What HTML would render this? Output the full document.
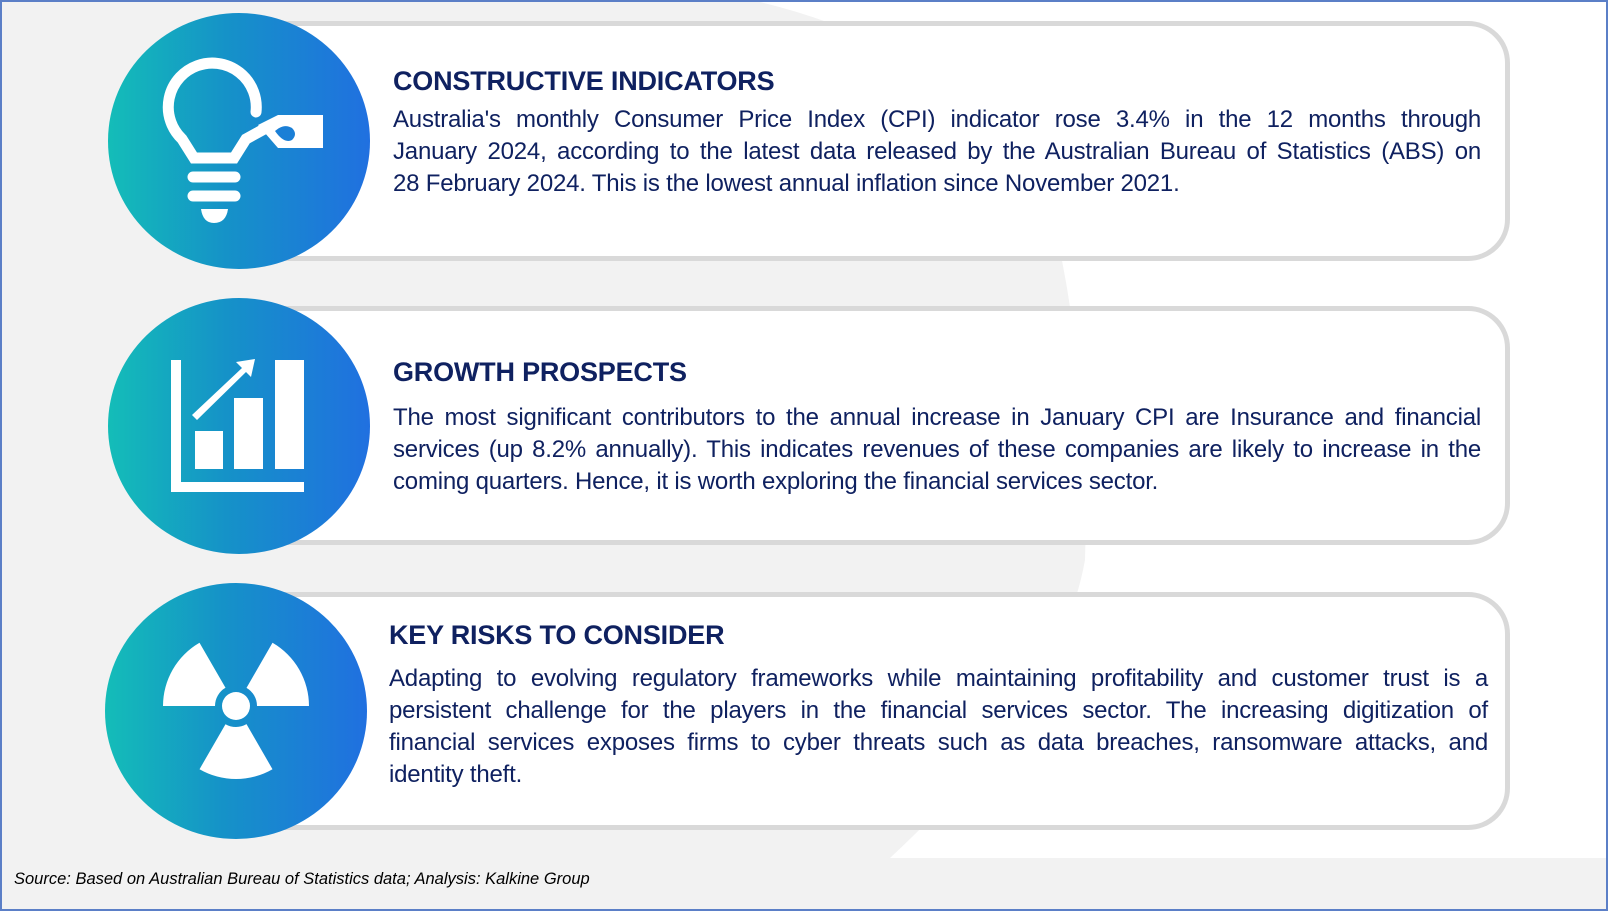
<!DOCTYPE html>
<html><head><meta charset="utf-8"><style>
*{margin:0;padding:0;box-sizing:border-box}
body{width:1608px;height:911px;overflow:hidden;background:#f2f2f2;font-family:"Liberation Sans",sans-serif;position:relative}
.frame{position:absolute;left:0;top:0;width:1608px;height:911px;border:2px solid #5b7fc7;}
.card{position:absolute;left:256px;width:1254px;border:5px solid #d9d9d9;border-radius:0 42px 42px 0;background:#fff}
.circ{position:absolute;width:262px;height:256px;border-radius:50%;background:linear-gradient(90deg,#14bdb8 0%,#1592c8 45%,#2070e0 100%)}
.circ svg{position:absolute;left:0;top:0}
.t{position:absolute;color:#0f2160;font-weight:bold;font-size:27px;line-height:30px;white-space:nowrap;letter-spacing:-0.2px}
.b{position:absolute;color:#0f2160;font-size:24px;line-height:32px;letter-spacing:-0.2px}
.b span{display:block;white-space:nowrap;text-align:justify;text-align-last:justify}
.b span.l{text-align-last:left}
.foot{position:absolute;left:14px;top:870px;font-size:16.5px;font-style:italic;color:#000}
</style></head><body>
<svg style="position:absolute;left:0;top:0" width="1608" height="911">
<path d="M760 2 L1608 2 L1608 858 L890 858 Q1060 700 1085 560 Q1090 400 1060 250 Q1000 60 760 2Z" fill="#fff"/>
</svg>
<div class="card" style="top:21px;height:240px"></div>
<div class="card" style="top:306px;height:239px"></div>
<div class="card" style="top:592px;height:238px"></div>

<div class="circ" style="left:108px;top:13px">
<svg width="262" height="256" viewBox="0 0 262 256" fill="none" stroke="#fff" stroke-linecap="round">
<path d="M148 99 A44 44 0 1 0 74 126 L86 145 L126 145 L138 126 L158 115" stroke-width="11" fill="none"/>
<path d="M150 112 L170 102 L215 102 L215 135 L170 135 Z" fill="#fff" stroke="none"/>
<path d="M167 118 Q176 110 184 115 Q190 121 184 127 Q176 131 167 118Z" fill="#1a7fd6" stroke="none"/>
<line x1="85" y1="164" x2="127" y2="164" stroke-width="11"/>
<line x1="85" y1="183" x2="127" y2="183" stroke-width="11"/>
<path d="M93 196 L120 196 Q118 210 106 210 Q95 210 93 196Z" fill="#fff" stroke="none"/>
</svg></div>

<div class="circ" style="left:108px;top:298px">
<svg width="262" height="256" viewBox="0 0 262 256" fill="#fff">
<rect x="63" y="62" width="10" height="132"/><rect x="63" y="184" width="133" height="10"/>
<rect x="87" y="133" width="28" height="38"/><rect x="126" y="100" width="29" height="71"/><rect x="167" y="62" width="29" height="109"/>
<path d="M84 117 L134 70 L128 64 L147 61 L143 79 L138 74 L89 122Z"/>
</svg></div>

<div class="circ" style="left:105px;top:583px">
<svg width="262" height="256" viewBox="0 0 262 256" fill="#fff">
<g transform="translate(131,123)">
<circle r="14"/>
<g id="bl"><path d="M-21 0 L-73 0 A73 73 0 0 1 -36.5 -63.2 L-10.5 -18.2 A21 21 0 0 0 -21 0Z"/></g>
<use href="#bl" transform="rotate(120)"/><use href="#bl" transform="rotate(240)"/>
</g></svg></div>

<div class="t" style="left:393px;top:66px">CONSTRUCTIVE INDICATORS</div>
<div class="b" style="left:393px;top:104px;width:1088px"><span>Australia's monthly Consumer Price Index (CPI) indicator rose 3.4% in the 12 months through</span><span>January 2024, according to the latest data released by the Australian Bureau of Statistics (ABS) on</span><span class="l">28 February 2024. This is the lowest annual inflation since November 2021.</span></div>

<div class="t" style="left:393px;top:357px">GROWTH PROSPECTS</div>
<div class="b" style="left:393px;top:402px;width:1088px"><span>The most significant contributors to the annual increase in January CPI are Insurance and financial</span><span>services (up 8.2% annually). This indicates revenues of these companies are likely to increase in the</span><span class="l">coming quarters. Hence, it is worth exploring the financial services sector.</span></div>

<div class="t" style="left:389px;top:620px">KEY RISKS TO CONSIDER</div>
<div class="b" style="left:389px;top:663px;width:1099px"><span>Adapting to evolving regulatory frameworks while maintaining profitability and customer trust is a</span><span>persistent challenge for the players in the financial services sector. The increasing digitization of</span><span>financial services exposes firms to cyber threats such as data breaches, ransomware attacks, and</span><span class="l">identity theft.</span></div>

<div class="foot">Source: Based on Australian Bureau of Statistics data; Analysis: Kalkine Group</div>
<div class="frame"></div>
</body></html>
